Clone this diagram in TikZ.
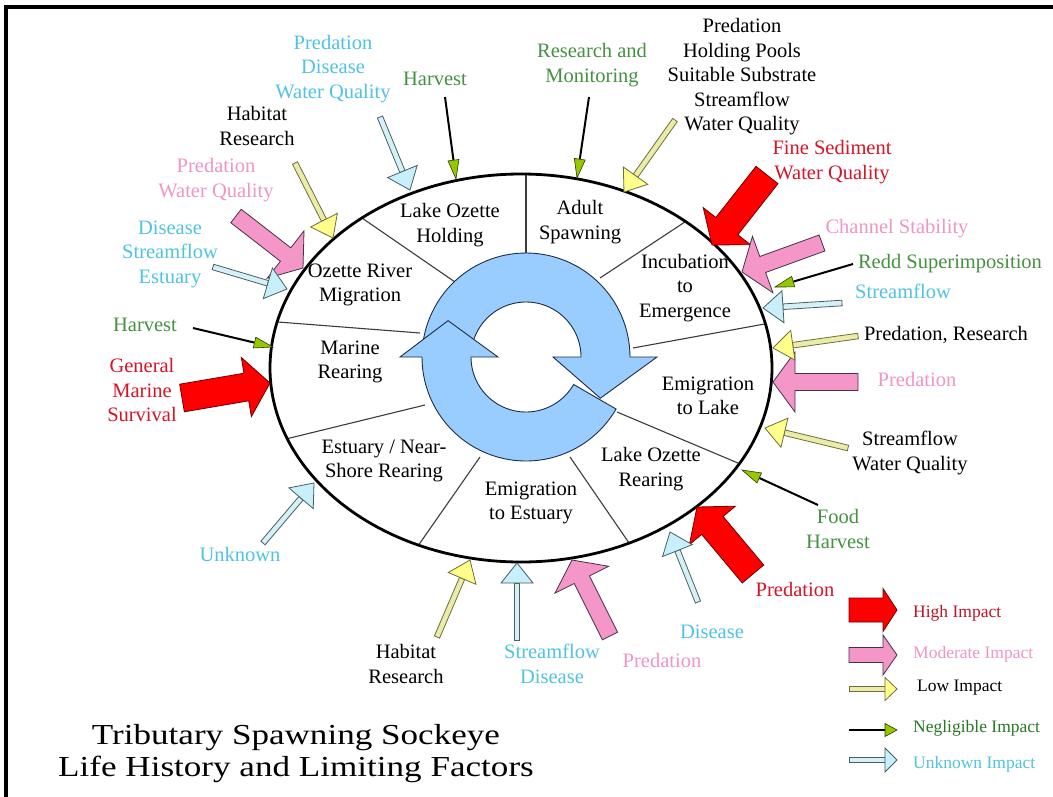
\documentclass[tikz,border=0pt]{standalone}
\usepackage{fontspec}
\usepackage{graphicx}
\setmainfont{Liberation Serif}
\usetikzlibrary{calc}
\definecolor{tred}{RGB}{215,20,40}
\definecolor{tpink}{RGB}{238,150,200}
\definecolor{tcyan}{RGB}{80,195,225}
\definecolor{tgreen}{RGB}{70,145,65}
\definecolor{lgred}{RGB}{190,20,40}
\definecolor{lggreen}{RGB}{40,120,40}
\definecolor{aRed}{RGB}{255,0,0}
\definecolor{aRedE}{RGB}{110,0,0}
\definecolor{aPink}{RGB}{245,150,200}
\definecolor{aPinkE}{RGB}{70,50,70}
\definecolor{aYel}{RGB}{255,255,140}
\definecolor{aYelS}{RGB}{235,235,170}
\definecolor{aYelE}{RGB}{110,110,60}
\definecolor{aCyan}{RGB}{200,240,250}
\definecolor{aCyanS}{RGB}{215,240,245}
\definecolor{aCyanE}{RGB}{70,95,100}
\definecolor{aGreen}{RGB}{150,200,0}
\definecolor{aGreenE}{RGB}{40,60,0}
\definecolor{ringBlue}{RGB}{153,204,255}
\definecolor{ringEdge}{RGB}{30,45,70}
\definecolor{secLine}{RGB}{60,60,60}

\newcommand\blockarrow[6]{%
  \coordinate (hb) at ($(#2)!#5!(#1)$);
  \path[#6] ($(#1)!#3!90:(#2)$) -- ($(hb)!#3!90:(#2)$) -- ($(hb)!#4!90:(#2)$) -- (#2)
    -- ($(hb)!#4!-90:(#2)$) -- ($(hb)!#3!-90:(#2)$) -- ($(#1)!#3!-90:(#2)$) -- cycle;
}
\newcommand\thinarrow[7]{%
  \coordinate (hb) at ($(#2)!#5!(#1)$);
  \path[#6] ($(#1)!#3!90:(#2)$) -- ($(hb)!#3!90:(#2)$) -- ($(hb)!#3!-90:(#2)$) -- ($(#1)!#3!-90:(#2)$) -- cycle;
  \path[#7] ($(hb)!#4!90:(#2)$) -- (#2) -- ($(hb)!#4!-90:(#2)$) -- cycle;
}
\newcommand\negarrow[4]{%
  \coordinate (hb) at ($(#2)!#4!(#1)$);
  \draw[negshaft] (#1) -- (hb);
  \path[neghead] ($(hb)!#3!90:(#2)$) -- (#2) -- ($(hb)!#3!-90:(#2)$) -- cycle;
}
\newcommand\hiarrow[2]{\blockarrow{#1}{#2}{14pt}{30pt}{24pt}{hiarr}}
\newcommand\modarrow[2]{\blockarrow{#1}{#2}{8.5pt}{30pt}{22pt}{modarr}}
\newcommand\lowarrow[2]{\thinarrow{#1}{#2}{2.8pt}{15pt}{20pt}{lowshaft}{lowhead}}
\newcommand\unkarrow[2]{\thinarrow{#1}{#2}{2.8pt}{16pt}{20pt}{unkshaft}{unkhead}}
\newcommand\ngarrow[2]{\negarrow{#1}{#2}{5.5pt}{19pt}}

\begin{document}
\begin{tikzpicture}[x=1pt,y=-1pt,
  lbl/.style={inner sep=0pt, align=center, font=\fontsize{20.5}{24.5}\selectfont},
  sec/.style={lbl, text=black},
  lgd/.style={inner sep=0pt, anchor=west, font=\fontsize{17.5}{20}\selectfont},
  hiarr/.style={fill=aRed, draw=aRedE, line width=0.8pt, line join=miter},
  modarr/.style={fill=aPink, draw=aPinkE, line width=0.8pt, line join=miter},
  lowshaft/.style={fill=aYelS, draw=aYelE, line width=0.8pt},
  lowhead/.style={fill=aYel, draw=aYelE, line width=0.8pt, line join=miter},
  unkshaft/.style={fill=aCyanS, draw=aCyanE, line width=0.8pt},
  unkhead/.style={fill=aCyan, draw=aCyanE, line width=0.8pt, line join=miter},
  negshaft/.style={draw=black, line width=2pt},
  neghead/.style={fill=aGreen, draw=aGreenE, line width=0.6pt, line join=miter},
  secln/.style={draw=secLine, line width=1.1pt},
  ringarr/.style={fill=ringBlue, draw=ringEdge, line width=0.9pt, line join=miter}
]
\useasboundingbox (0,0) rectangle (1053,796);
\fill[white] (0,0) rectangle (1053,796);
% frame
\draw[line width=4.5pt] (6,810) -- (6,7) -- (1070,7);

% sector divider lines
\begin{scope}
\clip (521,368) ellipse [x radius=251pt, y radius=194pt];
\foreach \a/\b in {{526,254}/{526,174},{455,282}/{362,218},{420,333}/{278,322},{425,405}/{290,438},{480,457}/{420,543},{570,457}/{627,540},{617,412}/{745,466},{633,348}/{770,323},{600,278}/{700,212}}
  \draw[secln, shorten >=-40pt] (\a) -- (\b);
\end{scope}

% ellipse
\draw[line width=2.8pt] (521,368) ellipse [x radius=251pt, y radius=194pt];

% cycle arrows
\path[ringarr] plot[domain=185:360,samples=60] ({526+104*cos(\x)},{357+104*sin(\x)})
  -- (657,357) -- ({526+85*cos(29)},{357+85*sin(29)}) -- (553,357) -- (581,357)
  -- plot[domain=360:185,samples=60] ({526+55*cos(\x)},{357+55*sin(\x)}) -- cycle;
\path[ringarr] plot[domain=30:180,samples=60] ({526+104*cos(\x)},{357+104*sin(\x)})
  -- (400,357) -- ({526+86*cos(205)},{357+86*sin(205)}) -- (498,357) -- (471,357)
  -- plot[domain=180:30,samples=60] ({526+55*cos(\x)},{357+55*sin(\x)}) -- cycle;

% sector labels
\node[sec] (s1) at (450,225) {Lake Ozette\\Holding};
\node[sec] (s2) at (580,222) {Adult\\Spawning};
\node[sec] (s3) at (685,288) {Incubation\\to\\Emergence};
\node[sec] (s4) at (708,396) {Emigration\\to Lake};
\node[sec] (s5) at (651,469) {Lake Ozette\\Rearing};
\node[sec] (s6) at (531,503) {Emigration\\to Estuary};
\node[sec] (s7) at (384,461) {Estuary / Near-\\Shore Rearing};
\node[sec] (s8) at (350,362) {Marine\\Rearing};
\node[sec] (s9) at (360,285) {Ozette River\\Migration};

% outer labels
\node[lbl, text=tcyan] (l1) at (333,69) {Predation\\Disease\\Water Quality};
\node[lbl, text=tgreen] (l2) at (435,79) {Harvest};
\node[lbl] (l3) at (257,126) {Habitat\\Research};
\node[lbl, text=tgreen] (l4) at (592,65) {Research and\\Monitoring};
\node[lbl] (l5) at (742,77) {Predation\\Holding Pools\\Suitable Substrate\\Streamflow\\Water Quality};
\node[lbl, text=tred] (l6) at (832,162) {Fine Sediment\\Water Quality};
\node[lbl, text=tpink] (l7) at (216,180) {Predation\\Water Quality};
\node[lbl, text=tcyan] (l8) at (170,254) {Disease\\Streamflow\\Estuary};
\node[lbl, text=tpink] (l9) at (897,229) {Channel Stability};
\node[lbl, text=tgreen] (l10) at (950,264) {Redd Superimposition};
\node[lbl, text=tcyan] (l11) at (903,291) {Streamflow};
\node[lbl] (l12) at (946,335) {Predation, Research};
\node[lbl, text=tpink] (l13) at (917,379) {Predation};
\node[lbl] (l14) at (910,453) {Streamflow\\Water Quality};
\node[lbl, text=tgreen] (l15) at (838,529) {Food\\Harvest};
\node[lbl, text=tred] (l16) at (795,589) {Predation};
\node[lbl, text=tcyan] (l17) at (712,632) {Disease};
\node[lbl, text=tpink] (l18) at (662,660) {Predation};
\node[lbl, text=tcyan] (l19) at (552,664) {Streamflow\\Disease};
\node[lbl] (l20) at (406,664) {Habitat\\Research};
\node[lbl, text=tcyan] (l21) at (240,554) {Unknown};
\node[lbl, text=tgreen] (l22) at (145,325) {Harvest};
\node[lbl, text=tred] (l23) at (142,390) {General\\Marine\\Survival};

% arrow end points
\coordinate (U1t) at (380,117); \coordinate (U1h) at (410,190);
\coordinate (U2t) at (213,267); \coordinate (U2h) at (287,289);
\coordinate (U3t) at (842,303); \coordinate (U3h) at (763,308);
\coordinate (U4t) at (263,543); \coordinate (U4h) at (314,483);
\coordinate (U5t) at (517,640); \coordinate (U5h) at (517,563);
\coordinate (U6t) at (698,602); \coordinate (U6h) at (670,532);
\coordinate (W1t) at (295,163); \coordinate (W1h) at (333,238);
\coordinate (W2t) at (675,120); \coordinate (W2h) at (624,192);
\coordinate (W3t) at (858,336); \coordinate (W3h) at (773,348);
\coordinate (W4t) at (848,448); \coordinate (W4h) at (765,428);
\coordinate (W5t) at (437,637); \coordinate (W5h) at (470,560);
\coordinate (N1t) at (445,97);  \coordinate (N1h) at (456,179);
\coordinate (N2t) at (589,97);  \coordinate (N2h) at (577,178);
\coordinate (N3t) at (853,264); \coordinate (N3h) at (775,287);
\coordinate (N4t) at (818,505); \coordinate (N4h) at (742,470);
\coordinate (N5t) at (193,328); \coordinate (N5h) at (273,347);
\coordinate (H1t) at (767,175); \coordinate (H1h) at (712,245);
\coordinate (H2t) at (753,574); \coordinate (H2h) at (697,507);
\coordinate (H3t) at (182,398); \coordinate (H3h) at (270,383);
\coordinate (M1t) at (822,243); \coordinate (M1h) at (742,272);
\coordinate (M2t) at (858,382); \coordinate (M2h) at (773,382);
\coordinate (M3t) at (610,636); \coordinate (M3h) at (572,560);
\coordinate (M4t) at (236,216); \coordinate (M4h) at (303,268);

\hiarrow{H1t}{H1h}
\hiarrow{H2t}{H2h}
\hiarrow{H3t}{H3h}
\modarrow{M1t}{M1h}
\modarrow{M2t}{M2h}
\modarrow{M3t}{M3h}
\modarrow{M4t}{M4h}
\lowarrow{W1t}{W1h}
\lowarrow{W2t}{W2h}
\lowarrow{W3t}{W3h}
\lowarrow{W4t}{W4h}
\lowarrow{W5t}{W5h}
\unkarrow{U1t}{U1h}
\unkarrow{U2t}{U2h}
\unkarrow{U3t}{U3h}
\unkarrow{U4t}{U4h}
\unkarrow{U5t}{U5h}
\unkarrow{U6t}{U6h}
\ngarrow{N1t}{N1h}
\ngarrow{N2t}{N2h}
\ngarrow{N3t}{N3h}
\ngarrow{N4t}{N4h}
\ngarrow{N5t}{N5h}

% legend
\coordinate (LHt) at (849,610); \coordinate (LHh) at (897,610);
\coordinate (LMt) at (849,655); \coordinate (LMh) at (897,655);
\coordinate (LLt) at (849,689); \coordinate (LLh) at (897,689);
\coordinate (LNt) at (849,730); \coordinate (LNh) at (897,730);
\coordinate (LUt) at (849,760); \coordinate (LUh) at (897,760);
\blockarrow{LHt}{LHh}{12pt}{21.5pt}{14pt}{hiarr}
\blockarrow{LMt}{LMh}{7.5pt}{20pt}{14pt}{modarr}
\thinarrow{LLt}{LLh}{2.8pt}{11.5pt}{12pt}{lowshaft}{lowhead}
\negarrow{LNt}{LNh}{6.5pt}{12pt}
\thinarrow{LUt}{LUh}{2.8pt}{12pt}{12pt}{unkshaft}{unkhead}
\node[lgd, text=lgred] (g1) at (913,613) {High Impact};
\node[lgd, text=tpink] (g2) at (913,654) {Moderate Impact};
\node[lgd] (g3) at (917,688) {Low Impact};
\node[lgd, text=lggreen] (g4) at (913,728) {Negligible Impact};
\node[lgd, text=tcyan] (g5) at (913,764) {Unknown Impact};

% title
\node[inner sep=0pt, align=center, font=\fontsize{29}{32}\selectfont] (title) at (296,754)
  {\scalebox{1.21}[1]{Tributary Spawning Sockeye}\\\scalebox{1.21}[1]{Life History and Limiting Factors}};
\end{tikzpicture}
\end{document}
